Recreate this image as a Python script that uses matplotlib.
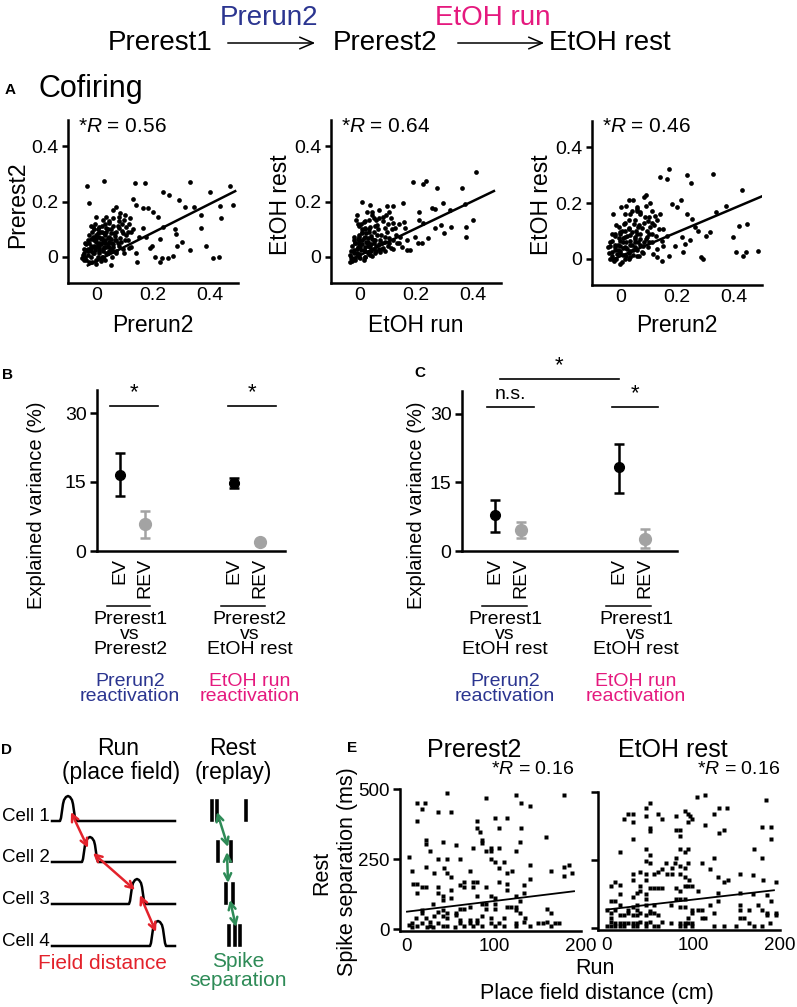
import numpy as np
import matplotlib.pyplot as plt
from matplotlib.patches import FancyArrowPatch
from matplotlib import transforms

plt.rcParams['font.family'] = ['Liberation Sans', 'DejaVu Sans']
plt.rcParams['mathtext.fontset'] = 'custom'
plt.rcParams['mathtext.rm'] = 'Liberation Sans'
plt.rcParams['mathtext.it'] = 'Liberation Sans:italic'

W, H = 797, 1007
BLUE = '#2b3590'
PINK = '#e5197e'
RED = '#e3222b'
GREEN = '#2e8b57'
GREY = '#a3a3a3'

###
# Data

# A: cofiring scatter plots, (x, y) pairs
a1_points = [(-0.034, 0.256), (0.028, 0.275), (-0.027, 0.196), (0.138, 0.268), (0.173, 0.268),
             (0.329, 0.271), (0.40, 0.233), (0.47, 0.256), (0.482, 0.187), (0.237, 0.233),
             (0.258, 0.223), (0.291, 0.205), (0.128, 0.208), (0.14, 0.187), (0.166, 0.175),
             (0.181, 0.175), (0.2, 0.163), (0.217, 0.145), (0.314, 0.179), (0.343, 0.179),
             (0.37, 0.151), (0.435, 0.184), (0.441, 0.139), (0.37, 0.106), (0.279, 0.101),
             (0.281, 0.083), (0.302, 0.053), (0.284, 0.041), (0.225, 0.064), (0.234, 0.109),
             (0.197, 0.041), (0.19, 0.031), (0.208, -0.002), (0.223, -0.02), (0.232, -0.005),
             (0.252, -0.005), (0.27, 0.004), (0.332, 0.025), (0.388, 0.041), (0.411, -0.005),
             (0.432, -0.002), (0.143, -0.02), (0.152, 0.073), (0.166, 0.103), (0.122, 0.091),
             (0.122, 0.037), (0.099, 0.013), (0.069, 0.013), (0.052, -0.029), (0.069, 0.181),
             (0.058, 0.169), (0.034, 0.145), (0.022, 0.133), (0.0, 0.145), (-0.013, 0.109),
             (0.011, 0.109), (0.046, 0.121), (0.081, 0.145), (0.099, 0.133), (0.105, 0.109),
             (0.093, 0.085), (0.081, 0.103), (0.064, 0.085), (0.069, 0.061), (0.087, 0.055),
             (0.046, 0.073), (0.028, 0.085), (0.011, 0.073), (-0.013, 0.073), (-0.025, 0.049),
             (-0.037, 0.025), (-0.048, 0.007), (-0.042, -0.011), (-0.025, -0.017), (0.0, -0.011),
             (0.022, -0.005), (0.034, 0.013), (0.011, 0.013), (-0.013, 0.013), (-0.007, 0.037),
             (0.011, 0.037), (0.028, 0.037), (0.046, 0.037), (0.022, 0.055), (0.0, 0.055),
             (-0.019, 0.031), (0.005, 0.085), (0.034, 0.103), (0.058, 0.037), (-0.031, 0.007),
             (0.111, 0.061), (0.117, 0.031), (0.14, 0.013), (0.176, 0.073),
             (-0.04, 0.0), (-0.03, 0.02), (-0.02, 0.04), (-0.01, 0.06), (0.0, 0.08), (0.01, 0.02),
             (0.02, 0.0), (0.03, 0.05), (0.04, 0.07), (0.05, 0.03), (-0.045, 0.015), (-0.035, 0.045),
             (-0.02, 0.065), (-0.005, 0.025), (0.005, 0.045), (0.015, 0.065), (0.025, 0.02),
             (0.035, 0.09), (0.045, 0.055), (0.06, 0.045), (0.07, 0.02), (0.08, 0.04), (-0.015, -0.02),
             (0.0, -0.025), (0.015, -0.015), (0.03, -0.01), (0.02, 0.09), (-0.01, 0.1), (0.05, 0.1),
             (0.065, 0.075), (0.09, 0.095), (0.1, 0.06), (0.075, 0.11), (0.11, 0.09), (0.03, 0.12),
             (0.01, 0.05), (-0.028, 0.03), (0.04, 0.015), (0.055, 0.0), (-0.05, -0.005),
             (-0.045, 0.03), (-0.04, 0.05), (-0.035, -0.01), (-0.03, 0.06), (-0.025, 0.08),
             (-0.02, 0.0), (-0.02, 0.02), (-0.015, 0.09), (-0.01, 0.04), (-0.01, 0.015),
             (-0.005, 0.07), (0.0, 0.035), (0.0, 0.065), (0.005, 0.0), (0.005, 0.1), (0.01, 0.03),
             (0.012, 0.09), (0.015, 0.045), (0.02, 0.07), (0.022, 0.03), (0.025, 0.0), (0.03, 0.08),
             (0.03, 0.06), (0.035, 0.035), (0.04, 0.1), (0.04, 0.045), (0.045, 0.02), (0.05, 0.065),
             (0.05, 0.085), (0.055, 0.05), (0.06, 0.11), (0.06, 0.02), (0.065, 0.06), (0.07, 0.09),
             (0.075, 0.05), (0.08, 0.13), (0.085, 0.07), (0.09, 0.12), (0.095, 0.03), (0.1, 0.15),
             (0.105, 0.08), (0.115, 0.12), (0.12, 0.14), (0.13, 0.1), (0.085, 0.16), (0.06, 0.14),
             (0.045, 0.13), (0.02, 0.11), (-0.005, 0.12), (-0.02, 0.11)]

a2_points = [(0.009, 0.199), (-0.008, 0.151), (-0.011, 0.133), (0.039, 0.187), (0.044, 0.163),
             (0.027, 0.163), (0.068, 0.169), (0.068, 0.139), (0.097, 0.184), (0.118, 0.184),
             (0.103, 0.163), (0.085, 0.145), (0.05, 0.139), (0.033, 0.133), (0.015, 0.127),
             (-0.006, 0.119), (0.039, 0.109), (0.062, 0.115), (0.091, 0.103), (0.12, 0.121),
             (0.126, 0.103), (0.153, 0.196), (0.156, 0.127), (0.161, 0.103), (0.191, 0.271),
             (0.223, 0.263), (0.235, 0.275), (0.273, 0.247), (0.363, 0.247), (0.413, 0.307),
             (0.212, 0.163), (0.258, 0.175), (0.266, 0.172), (0.294, 0.193), (0.319, 0.169),
             (0.372, 0.191), (0.401, 0.133), (0.378, 0.109), (0.378, 0.073), (0.325, 0.109),
             (0.287, 0.115), (0.266, 0.103), (0.298, 0.085), (0.243, 0.067), (0.22, 0.049),
             (0.208, 0.049), (0.196, 0.073), (0.212, 0.133), (0.226, 0.121), (0.167, 0.025),
             (0.179, 0.025), (0.167, 0.061), (0.144, 0.073), (0.132, 0.049), (0.12, 0.061),
             (0.103, 0.049), (0.091, 0.073), (0.085, 0.031), (0.074, 0.019), (0.056, 0.013),
             (0.039, 0.007), (0.021, 0.001), (0.004, -0.005), (-0.014, -0.011), (-0.032, -0.017),
             (-0.032, 0.007), (-0.02, 0.025), (-0.014, 0.049), (-0.002, 0.073), (0.009, 0.091),
             (0.021, 0.073), (0.027, 0.049), (0.039, 0.037), (0.05, 0.061), (0.062, 0.079),
             (0.074, 0.061), (0.004, 0.037), (0.015, 0.025), (-0.008, 0.013), (-0.002, 0.055),
             (-0.02, 0.073), (0.033, 0.091), (0.021, 0.103), (0.097, 0.091), (0.111, 0.031),
             (0.15, 0.037),
             (-0.03, 0.0), (-0.02, 0.015), (-0.01, 0.03), (0.0, 0.045), (0.01, 0.06), (0.02, 0.02),
             (0.03, 0.04), (0.04, 0.02), (0.05, 0.05), (0.0, 0.01), (-0.015, 0.05), (0.01, 0.085),
             (0.02, 0.1), (0.03, 0.07), (0.045, 0.065), (0.06, 0.04), (0.07, 0.03), (0.015, -0.01),
             (-0.025, -0.015), (0.005, 0.12), (0.0, 0.0), (0.025, 0.055), (0.035, 0.01),
             (-0.005, 0.065), (0.055, 0.11), (0.08, 0.05), (0.09, 0.02), (0.1, 0.04), (0.12, 0.03),
             (0.14, 0.05),
             (-0.03, 0.02), (-0.025, 0.04), (-0.02, 0.06), (-0.015, -0.005), (-0.01, 0.01),
             (-0.005, 0.035), (0.0, 0.06), (0.0, 0.08), (0.005, 0.025), (0.01, 0.045), (0.01, 0.1),
             (0.015, 0.07), (0.02, 0.035), (0.02, 0.0), (0.025, 0.085), (0.03, 0.015), (0.03, 0.055),
             (0.035, 0.1), (0.04, 0.045), (0.04, 0.075), (0.045, 0.005), (0.05, 0.03), (0.05, 0.09),
             (0.055, 0.06), (0.06, 0.02), (0.065, 0.1), (0.07, 0.045), (0.075, 0.08), (0.08, 0.03),
             (0.085, 0.13), (0.09, 0.055), (0.095, 0.15), (0.1, 0.12), (0.105, 0.07), (0.11, 0.14),
             (0.115, 0.1), (0.13, 0.08), (0.14, 0.12), (0.06, 0.135), (0.045, 0.15), (0.02, 0.13),
             (0.0, 0.11)]

a3_points = [(-0.026, 0.161), (0.002, 0.185), (0.029, 0.209), (0.044, 0.209), (0.082, 0.221),
             (0.091, 0.227), (0.058, 0.187), (0.058, 0.173), (0.035, 0.161), (0.07, 0.167),
             (0.088, 0.149), (0.099, 0.137), (0.111, 0.173), (0.123, 0.155), (0.14, 0.161),
             (0.14, 0.293), (0.164, 0.285), (0.173, 0.321), (0.237, 0.299), (0.248, 0.271),
             (0.327, 0.305), (0.213, 0.211), (0.199, 0.185), (0.181, 0.195), (0.234, 0.161),
             (0.254, 0.143), (0.374, 0.191), (0.339, 0.167), (0.43, 0.245), (0.419, 0.119),
             (0.447, 0.123), (0.398, 0.079), (0.409, 0.026), (0.433, 0.011), (0.442, 0.026),
             (0.485, 0.029), (0.284, 0.005), (0.29, -0.001), (0.316, 0.095), (0.302, 0.083),
             (0.275, 0.101), (0.263, 0.113), (0.246, 0.067), (0.228, 0.053), (0.222, 0.023),
             (0.216, 0.077), (0.193, 0.047), (0.17, 0.011), (0.146, -0.007), (0.129, 0.005),
             (0.117, 0.017), (0.129, 0.035), (0.146, 0.065), (0.152, 0.047), (0.164, 0.083),
             (0.135, 0.107), (0.152, 0.107), (0.105, 0.113), (0.111, 0.089), (0.094, 0.077),
             (0.082, 0.059), (0.099, 0.041), (0.076, 0.023), (0.058, 0.011), (0.035, 0.005),
             (0.018, -0.001), (-0.002, -0.017), (-0.023, -0.007), (-0.035, -0.001), (-0.044, 0.041),
             (-0.029, 0.065), (-0.018, 0.089), (-0.006, 0.113), (0.012, 0.125), (0.029, 0.107),
             (0.047, 0.125), (0.064, 0.113), (0.07, 0.089), (0.053, 0.077), (0.035, 0.065),
             (0.018, 0.077), (0.0, 0.065), (-0.018, 0.041), (0.0, 0.029), (0.018, 0.041),
             (0.035, 0.029), (0.053, 0.041), (-0.012, 0.017), (-0.029, 0.023), (0.064, 0.059),
             (0.0, 0.095),
             (-0.03, 0.01), (-0.02, 0.03), (-0.01, 0.05), (0.0, 0.02), (0.01, 0.04), (0.02, 0.06),
             (0.03, 0.02), (0.04, 0.05), (0.05, 0.07), (0.06, 0.03), (-0.015, 0.0), (0.005, -0.01),
             (0.02, 0.01), (0.035, 0.085), (0.0, 0.09), (0.015, 0.1), (-0.02, 0.08), (0.045, 0.03),
             (0.07, 0.05), (0.08, 0.02), (0.01, 0.075), (-0.035, 0.045), (0.025, 0.035),
             (0.055, 0.1), (0.09, 0.07), (0.1, 0.09), (0.065, 0.12), (0.03, 0.14), (0.015, 0.16),
             (0.11, 0.06),
             (-0.04, 0.02), (-0.035, 0.06), (-0.03, 0.09), (-0.025, 0.0), (-0.02, 0.05),
             (-0.015, 0.12), (-0.01, 0.03), (-0.005, 0.075), (0.0, 0.045), (0.005, 0.1),
             (0.01, 0.015), (0.01, 0.06), (0.015, 0.13), (0.02, 0.04), (0.025, 0.08), (0.03, 0.0),
             (0.03, 0.11), (0.035, 0.05), (0.04, 0.095), (0.045, 0.015), (0.05, 0.14), (0.05, 0.06),
             (0.055, 0.035), (0.06, 0.09), (0.065, 0.01), (0.07, 0.16), (0.07, 0.07), (0.075, 0.11),
             (0.08, 0.045), (0.085, 0.13), (0.09, 0.19), (0.095, 0.1), (0.1, 0.15), (0.1, 0.06),
             (0.105, 0.2), (0.11, 0.13), (0.12, 0.12), (0.125, 0.08), (0.13, 0.14), (0.04, 0.17),
             (0.02, 0.19), (0.06, 0.18)]

a_fits = [(-0.015, 0.515), (0.005, 0.49), (0.009, 0.43)]   # intercept, slope
a_fit_xmax = [0.49, 0.475, 0.5]
a_r_values = ['0.56', '0.64', '0.46']
a_xlabels = ['Prerun2', 'EtOH run', 'Prerun2']
a_ylabels = ['Prerest2', 'EtOH rest', 'EtOH rest']

# B / C: explained variance (mean, upper, lower) for EV and REV per comparison
b_ev = [16.5, 14.8]
b_ev_hi = [21.3, 15.9]
b_ev_lo = [12.0, 13.7]
b_rev = [5.9, 1.9]
b_rev_hi = [8.7, 2.4]
b_rev_lo = [2.8, 1.4]
b_groups = ['Prerest1\nvs\nPrerest2', 'Prerest2\nvs\nEtOH rest']

c_ev = [7.8, 18.3]
c_ev_hi = [11.1, 23.5]
c_ev_lo = [4.1, 12.6]
c_rev = [4.6, 2.6]
c_rev_hi = [6.3, 4.8]
c_rev_lo = [2.8, 0.6]
c_groups = ['Prerest1\nvs\nEtOH rest', 'Prerest1\nvs\nEtOH rest']

react_labels = ['Prerun2\nreactivation', 'EtOH run\nreactivation']
react_colors = [BLUE, PINK]

# E: spike separation vs place field distance, (cm, ms) pairs
e1_points = [(46, 487), (91, 469), (125, 479), (180, 479), (11, 449), (21, 449), (17, 427),
             (36, 417), (51, 417), (131, 449), (141, 439), (12, 387), (101, 398), (115, 398),
             (81, 387), (84, 348), (81, 360), (106, 360), (131, 360), (160, 330), (22, 318),
             (22, 302), (26, 279), (41, 310), (56, 300), (86, 318), (86, 308), (76, 288),
             (91, 279), (96, 288), (96, 279), (106, 288), (125, 279), (130, 310), (2, 258),
             (36, 249), (46, 249), (61, 249), (96, 249), (101, 238), (112, 238), (106, 219),
             (121, 208), (141, 229), (165, 208), (180, 220), (186, 229), (190, 199), (180, 189),
             (6, 208), (22, 223), (31, 199), (42, 217), (46, 199), (51, 187), (72, 208),
             (115, 199), (141, 179), (7, 160), (12, 160), (12, 130), (17, 149), (22, 149),
             (36, 149), (36, 127), (41, 118), (51, 139), (61, 157), (66, 149), (66, 167),
             (76, 169), (81, 169), (76, 149), (91, 149), (81, 118), (106, 169), (115, 161),
             (115, 139), (135, 157), (135, 130), (125, 118), (96, 118), (101, 110), (41, 104),
             (51, 110), (30, 89), (61, 70), (66, 70), (72, 80), (86, 89), (91, 89), (91, 70),
             (101, 89), (101, 70), (115, 80), (120, 80), (125, 80), (125, 68), (130, 100),
             (130, 58), (161, 70), (165, 58), (17, 68), (17, 58), (36, 62), (41, 68), (46, 58),
             (56, 58), (10, 40), (22, 40), (31, 48), (41, 48), (46, 40), (56, 50), (61, 32),
             (72, 32), (81, 32), (86, 48), (96, 40), (111, 40), (136, 40), (135, 26), (2, 14),
             (6, 20), (12, 12), (17, 20), (26, 26), (26, 12), (36, 20), (41, 12), (46, 12),
             (61, 20), (66, 12), (72, 20), (76, 12), (81, 20), (86, 12), (96, 20), (101, 12),
             (106, 20), (111, 12), (125, 20), (125, 12), (141, 12), (151, 20), (156, 20),
             (161, 26), (165, 12), (170, 20), (175, 20), (6, 6), (23, 6), (55, 6), (30, 6)]

e2_points = [(104, 482), (114, 490), (184, 472), (50, 460), (45, 441), (130, 441), (139, 441),
             (25, 421), (30, 421), (45, 411), (59, 421), (80, 411), (90, 430), (94, 421),
             (96, 411), (99, 399), (94, 390), (124, 421), (20, 399), (30, 390), (64, 399),
             (114, 380), (50, 366), (50, 357), (80, 360), (85, 360), (85, 338), (130, 350),
             (135, 360), (179, 370), (190, 370), (190, 327), (30, 327), (15, 278), (45, 289),
             (50, 268), (45, 248), (50, 238), (85, 289), (90, 280), (94, 289), (170, 289),
             (179, 259), (110, 238), (124, 259), (119, 217), (69, 238), (64, 217), (75, 220),
             (79, 238), (80, 259), (85, 229), (90, 220), (94, 238), (70, 198), (75, 198),
             (85, 198), (90, 189), (95, 177), (59, 207), (45, 198), (39, 207), (30, 198),
             (30, 177), (45, 177), (55, 198), (129, 189), (135, 168), (140, 177), (154, 198),
             (169, 195), (180, 177), (195, 168), (5, 156), (10, 168), (15, 159), (39, 155),
             (39, 137), (50, 146), (55, 146), (59, 146), (64, 146), (80, 146), (85, 137),
             (90, 156), (94, 156), (99, 156), (105, 137), (35, 128), (30, 116), (15, 126),
             (45, 126), (45, 106), (80, 106), (85, 106), (90, 106), (154, 128), (169, 124),
             (185, 122), (129, 128), (129, 98), (5, 98), (10, 98), (15, 85), (25, 67), (30, 79),
             (35, 85), (35, 67), (45, 85), (50, 61), (55, 85), (74, 85), (85, 79), (90, 79),
             (119, 85), (154, 85), (154, 67), (164, 67), (175, 85), (190, 98), (0, 67), (5, 57),
             (10, 67), (15, 49), (20, 49), (25, 57), (30, 49), (35, 49), (39, 57), (45, 49),
             (50, 57), (55, 57), (59, 49), (99, 67), (99, 55), (94, 37), (105, 67), (110, 67),
             (110, 37), (114, 37), (124, 57), (154, 37), (159, 37), (179, 67), (185, 55),
             (185, 49), (195, 57), (195, 49), (5, 37), (5, 24), (10, 18), (15, 18), (20, 18),
             (25, 18), (30, 18), (35, 18), (39, 24), (45, 18), (50, 24), (64, 24), (74, 18),
             (85, 18), (90, 18), (94, 18), (99, 18), (164, 18), (189, 18), (0, 9), (5, 9),
             (10, 9), (15, 9), (20, 9), (30, 9), (35, 9), (45, 9), (55, 9), (59, 9), (85, 9),
             (90, 9), (99, 9), (124, 9), (135, 9), (149, 9), (170, 9), (179, 9)]

e_fits = [(62, 0.38), (68, 0.368)]     # intercept (ms), slope (ms/cm)
e_fit_xmax = [192, 193]
e_titles = ['Prerest2', 'EtOH rest']
e_r_values = ['0.16', '0.16']

# D: schematic, in pixel units of the panel
cell_names = ['Cell 1', 'Cell 2', 'Cell 3', 'Cell 4']
cell_row_y = [821, 862, 904, 946]
field_peak_x = [68, 90, 137, 158]
bump_dx = [-8, -7, -6, -5, -4, -2, 0, 2, 4, 5, 6, 7, 8]
bump_h = [0, 3, 10, 17, 21, 24, 25, 24, 21, 17, 10, 3, 0]
replay_spikes = [[212, 217, 246], [218, 231], [226, 233], [229, 235, 240]]
green_start = [(217, 812), (227, 852), (230, 900)]
green_end = [(228, 847), (228, 883), (236, 927)]


def px_box(l, t, r, b):
    return [l / W, 1 - b / H, (r - l) / W, (b - t) / H]


def fx(x):
    return x / W


def fy(y):
    return 1 - y / H


def clean(ax, lw=1.8, ylen=4.5, xpad=3):
    ax.spines[['top', 'right']].set_visible(False)
    ax.spines[['left', 'bottom']].set_linewidth(lw)
    ax.tick_params(axis='y', length=ylen, width=lw, pad=2.5)
    ax.tick_params(axis='x', length=0, pad=xpad)


fig = plt.figure(figsize=(W / 100, H / 100), dpi=100)

# header
fig.text(fx(108), fy(50), 'Prerest1', fontsize=20, ha='left', va='baseline')
fig.text(fx(333), fy(50), 'Prerest2', fontsize=20, ha='left', va='baseline')
fig.text(fx(549), fy(50), 'EtOH rest', fontsize=20, ha='left', va='baseline')
fig.text(fx(269), fy(25), 'Prerun2', fontsize=20, ha='center', va='baseline', color=BLUE)
fig.text(fx(493), fy(25), 'EtOH run', fontsize=20, ha='center', va='baseline', color=PINK)
for x0, x1 in [(225, 318), (455, 547)]:
    fig.add_artist(FancyArrowPatch((fx(x0), fy(43)), (fx(x1), fy(43)), transform=fig.transFigure,
                                   arrowstyle='->,head_length=0.7,head_width=0.3',
                                   mutation_scale=14, lw=1.1, color='black'))

# panel letters
for letter, (x, y) in zip('ABCDE', [(10, 90), (8, 375), (420, 373), (7, 750), (352, 748)]):
    fig.text(fx(x), fy(y), letter, fontsize=11, fontweight='bold', ha='center', va='center')
fig.text(fx(38), fy(89), 'Cofiring', fontsize=22, ha='left', va='center')

# ---------------- A
a_boxes = [(68, 120, 238, 283), (331, 120, 501, 283), (592, 121, 762, 285)]
for i, pts in enumerate([a1_points, a2_points, a3_points]):
    l, t, r, b = a_boxes[i]
    ax = fig.add_axes(px_box(l, t, r, b))
    x, y = np.array(pts).T
    ax.plot(x, y, 'o', ms=3.4, color='black', mec='none')
    b0, b1 = a_fits[i]
    xx = np.array([-0.03, a_fit_xmax[i]])
    ax.plot(xx, b0 + b1 * xx, color='black', lw=1.8)
    ax.set_xlim(-0.1, 0.5)
    ax.set_ylim(-0.094, 0.494)
    ax.set_xticks([0, 0.2, 0.4], ['0', '0.2', '0.4'])
    ax.set_yticks([0, 0.2, 0.4], ['0', '0.2', '0.4'])
    clean(ax)
    ax.tick_params(labelsize=14)
    fig.text(fx(l + 10), fy(127), '*$R$ = ' + a_r_values[i], fontsize=15, va='center')
    fig.text(fx(l - 50.5), fy(205), a_ylabels[i], rotation=90, fontsize=16.5,
             ha='center', va='center')
    fig.text(fx((l + r) / 2), fy(325), a_xlabels[i], fontsize=16.5, ha='center', va='center')

# ---------------- B and C
ev_panels = [
    dict(box=(97, 390, 285, 551), xlim=(0.1, 7.5), pos=[1, 5.5],
         ev=b_ev, ev_hi=b_ev_hi, ev_lo=b_ev_lo, rev=b_rev, rev_hi=b_rev_hi, rev_lo=b_rev_lo,
         groups=b_groups, group_x=[1.4, 6.1], ylab_x=37),
    dict(box=(462, 391, 677, 551), xlim=(-0.25, 7.9), pos=[1, 5.7],
         ev=c_ev, ev_hi=c_ev_hi, ev_lo=c_ev_lo, rev=c_rev, rev_hi=c_rev_hi, rev_lo=c_rev_lo,
         groups=c_groups, group_x=[1.38, 6.35], ylab_x=416),
]
for k, p in enumerate(ev_panels):
    l, t, r, b = p['box']
    ax = fig.add_axes(px_box(l, t, r, b))
    pos_ev = np.array(p['pos'])
    pos_rev = pos_ev + 1
    ev, rev = np.array(p['ev']), np.array(p['rev'])
    ax.errorbar(pos_ev, ev, yerr=[ev - np.array(p['ev_lo']), np.array(p['ev_hi']) - ev],
                fmt='o', ms=7, color='black', ecolor='black', elinewidth=1.8,
                capsize=3.5, capthick=1.8, clip_on=False, zorder=3)
    ax.errorbar(pos_rev, rev, yerr=[rev - np.array(p['rev_lo']), np.array(p['rev_hi']) - rev],
                fmt='o', ms=8.5, color=GREY, ecolor=GREY, elinewidth=1.8,
                capsize=3.5, capthick=1.8, clip_on=False, zorder=3)
    ax.set_xlim(*p['xlim'])
    ax.set_ylim(0, 35)
    ticks = np.sort(np.concatenate([pos_ev, pos_rev]))
    ax.set_xticks(ticks, ['EV', 'REV', 'EV', 'REV'], rotation=90)
    ax.set_yticks([0, 15, 30])
    clean(ax, ylen=5, xpad=5)
    ax.tick_params(labelsize=14)
    fig.text(fx(p['ylab_x']), fy(505), 'Explained variance (%)', rotation=90, fontsize=14.5,
             ha='center', va='center')

    tr = transforms.blended_transform_factory(ax.transData, fig.transFigure)
    for j in range(2):
        ax.plot([pos_ev[j] - 0.5, pos_rev[j] + 0.2], [fy(606)] * 2, transform=tr,
                color='black', lw=1.1, clip_on=False)
        ax.text(p['group_x'][j], fy(611), p['groups'][j], transform=tr, ha='center', va='top',
                fontsize=14, linespacing=0.85)
        ax.text(p['group_x'][j], fy(673), react_labels[j], transform=tr, ha='center', va='top',
                fontsize=14, linespacing=0.85, color=react_colors[j])

    if k == 0:
        sig = [((0.6, 2.5), 31.5, '*'), ((5.25, 7.15), 31.5, '*')]
    else:
        sig = [((0.7, 2.48), 31.5, 'n.s.'), ((5.44, 7.18), 31.5, '*'), ((1.19, 5.7), 37.6, '*')]
    for (s0, s1), yv, lab in sig:
        ax.plot([s0, s1], [yv, yv], color='black', lw=1.2, clip_on=False)
        if lab == '*':
            ax.text((s0 + s1) / 2, yv + 0.6, lab, ha='center', va='bottom', fontsize=16)
        else:
            ax.text((s0 + s1) / 2, yv + 0.8, lab, ha='center', va='bottom', fontsize=14)

# ---------------- D schematic
axd = fig.add_axes(px_box(0, 725, 300, 1005))
axd.set_xlim(0, 300)
axd.set_ylim(1005, 725)
axd.axis('off')
axd.text(118, 748, 'Run', fontsize=16.5, ha='center', va='center')
axd.text(121, 772, '(place field)', fontsize=16.5, ha='center', va='center')
axd.text(233, 748, 'Rest', fontsize=16.5, ha='center', va='center')
axd.text(233, 772, '(replay)', fontsize=16.5, ha='center', va='center')
for i in range(4):
    yb = cell_row_y[i]
    pk = field_peak_x[i]
    xs = [52] + [pk + d for d in bump_dx] + [175]
    ys = [yb] + [yb - h for h in bump_h] + [yb]
    axd.plot(xs, ys, color='black', lw=1.8, solid_joinstyle='round')
    axd.text(50, yb, cell_names[i], fontsize=13.5, ha='right', va='baseline')
    for sx in replay_spikes[i]:
        axd.plot([sx, sx], [yb - 20, yb - 1], color='black', lw=2.6)
for i in range(3):
    start = (field_peak_x[i] + 3, cell_row_y[i] - 9)
    end = (field_peak_x[i + 1] - 2, cell_row_y[i + 1] - 14)
    axd.annotate('', xy=end, xytext=start,
                 arrowprops=dict(arrowstyle='<->,head_length=0.5,head_width=0.25',
                                 color=RED, lw=1.8, shrinkA=0, shrinkB=0))
    axd.annotate('', xy=green_end[i], xytext=green_start[i],
                 arrowprops=dict(arrowstyle='<->,head_length=0.5,head_width=0.25',
                                 color=GREEN, lw=1.8, shrinkA=0, shrinkB=0))
axd.text(102, 963, 'Field distance', fontsize=15, ha='center', va='center', color=RED)
axd.text(238, 971, 'Spike\nseparation', fontsize=15, ha='center', va='center',
         color=GREEN, linespacing=0.95)

# ---------------- E
e_boxes = [(400, 789, 581, 931), (598, 792, 780, 930)]
e_xlims = [(-8, 200), (-10, 200)]
for i, pts in enumerate([e1_points, e2_points]):
    l, t, r, b = e_boxes[i]
    ax = fig.add_axes(px_box(l, t, r, b))
    x, y = np.array(pts).T
    ax.plot(x, y, 's', ms=2.2, color='black', mec='none', clip_on=False)
    b0, b1 = e_fits[i]
    xx = np.array([0, e_fit_xmax[i]])
    ax.plot(xx, b0 + b1 * xx, color='black', lw=1.3)
    ax.set_xlim(*e_xlims[i])
    ax.set_ylim(-7, 500)
    ax.set_xticks([0, 100, 200])
    ax.set_yticks([0, 250, 500])
    clean(ax, ylen=5, xpad=5)
    ax.tick_params(labelsize=13.5)
    if i == 1:
        ax.set_yticklabels([])
    fig.text(fx((l + r) / 2 - 16), fy(750), e_titles[i], fontsize=18, ha='center', va='center')
    fig.text(fx(r - 7 + 7 * i), fy(770), '*$R$ = ' + e_r_values[i], fontsize=14,
             ha='right', va='center')

fig.text(fx(322), fy(873), 'Rest', rotation=90, fontsize=15.5, ha='center', va='center')
fig.text(fx(347), fy(872), 'Spike separation (ms)', rotation=90, fontsize=15.5,
         ha='center', va='center')
fig.text(fx(595), fy(968), 'Run', fontsize=15.5, ha='center', va='center')
fig.text(fx(597), fy(993), 'Place field distance (cm)', fontsize=15.5, ha='center', va='center')

fig.savefig('out.png', dpi=100)
